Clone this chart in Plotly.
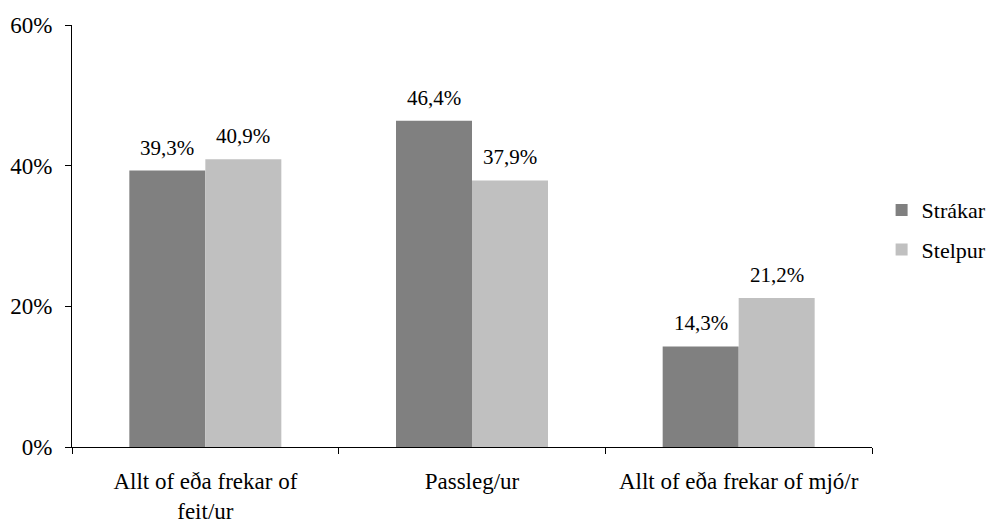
import plotly.graph_objects as go

categories = ["Allt of eða frekar of<br>feit/ur", "Passleg/ur", "Allt of eða frekar of mjó/r"]
strakar = [39.3, 46.4, 14.3]
stelpur = [40.9, 37.9, 21.2]
series_names = ["Strákar", "Stelpur"]
colors = ["#808080", "#C0C0C0"]
y_ticks = [0, 20, 40, 60]
y_tick_labels = ["0%", "20%", "40%", "60%"]

FONT = "Liberation Serif, Times New Roman, serif"


def fmt(v):
    return f"{v:.1f}".replace(".", ",") + "%"


fig = go.Figure()
for name, vals, col in zip(series_names, [strakar, stelpur], colors):
    fig.add_trace(go.Bar(
        x=categories, y=vals, name=name, legendgroup=name,
        marker=dict(color=col, line=dict(width=0)),
        hoverinfo="skip",
    ))

# value labels above bars
bargap = 0.43
half = (1 - bargap) / 4
for i in range(len(categories)):
    for off, vals in [(-half, strakar), (half, stelpur)]:
        fig.add_annotation(
            x=i + off, y=vals[i], xref="x", yref="y",
            text=fmt(vals[i]), showarrow=False,
            yanchor="bottom", yshift=9,
            font=dict(family=FONT, size=21, color="black"),
        )

fig.update_layout(
    width=989, height=519,
    margin=dict(l=64, r=125, t=17, b=80, autoexpand=False),
    plot_bgcolor="white", paper_bgcolor="white",
    barmode="group", bargap=bargap, bargroupgap=0,
    font=dict(family=FONT, size=23, color="black"),
    legend=dict(x=1.012, y=0.514, xanchor="left", yanchor="middle",
                font=dict(family=FONT, size=22), itemwidth=30,
                traceorder="grouped", tracegroupgap=8),
    showlegend=True,
)
fig.update_xaxes(
    showline=True, linecolor="black", linewidth=1,
    ticks="outside", ticklen=6, tickcolor="black", tickson="boundaries",
    showgrid=False, tickfont=dict(family=FONT, size=23), tickangle=0,
    ticklabelstandoff=13, automargin=False,
)
fig.update_yaxes(
    range=[0, 60], tickvals=y_ticks, ticktext=y_tick_labels,
    showline=True, linecolor="black", linewidth=1,
    ticks="outside", ticklen=6, tickcolor="black",
    showgrid=False, zeroline=False, tickfont=dict(family=FONT, size=23),
    ticklabelstandoff=8, automargin=False,
)

fig.write_html("out.html")
